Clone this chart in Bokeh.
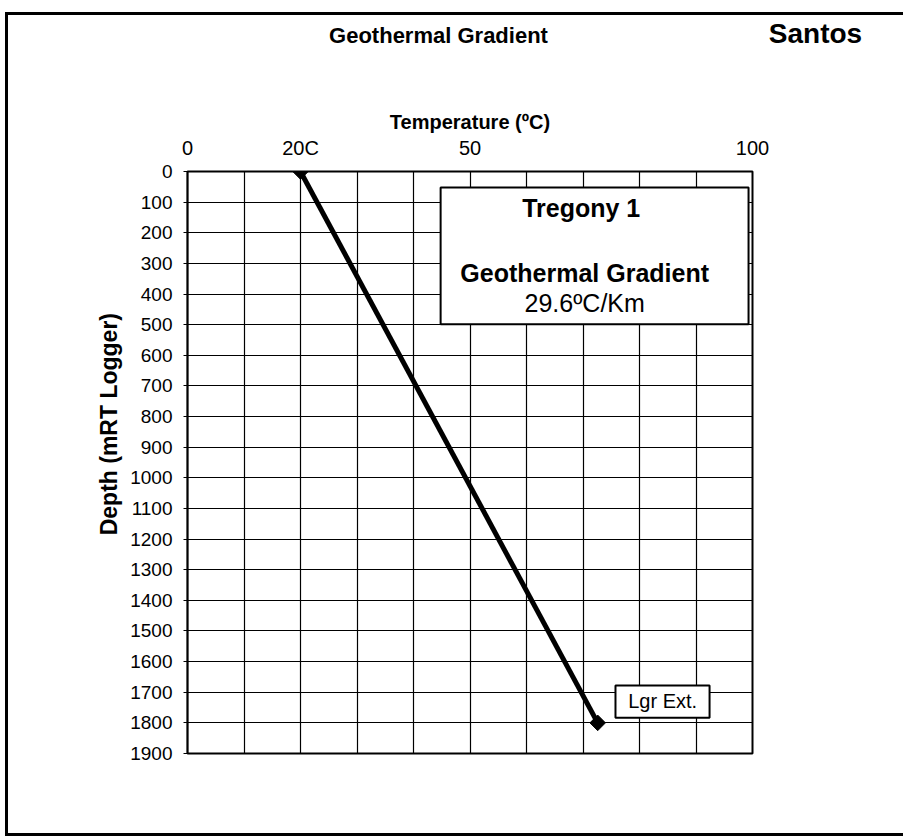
import math
from bokeh.plotting import figure
from bokeh.layouts import column, row
from bokeh.models import Range1d, FixedTicker, Label, BoxAnnotation
from bokeh.embed import file_html
from bokeh.resources import INLINE

# ---- data ----
temperature = [20.0, 72.6]          # degC
depth = [0, 1800]                   # m
x_tick_values = [0, 20, 50, 100]
x_tick_labels = ["0", "20C", "50", "100"]
x_grid_values = list(range(0, 101, 10))
y_tick_values = list(range(0, 1901, 100))
chart_title = "Geothermal Gradient"
company = "Santos"
x_title = "Temperature (ºC)"
y_title = "Depth (mRT Logger)"
well_name = "Tregony  1"
gradient_title = "Geothermal Gradient"
gradient_value = "29.6ºC/Km"
point_label = "Lgr Ext."

FONT = "Liberation Sans"
W = 895
HEAD_H = 60
MAIN_H = 758

# ---- header (titles) ----
head = figure(width=W, height=HEAD_H, x_range=Range1d(8, 903), y_range=Range1d(75, 15),
              x_axis_location=None, y_axis_location=None, output_backend="svg",
              toolbar_location=None, min_border=0)
head.min_border_left = head.min_border_right = 0
head.min_border_top = head.min_border_bottom = 0
head.outline_line_color = None
head.xgrid.visible = False
head.ygrid.visible = False
head.background_fill_color = "white"
head.border_fill_color = "white"
head.add_layout(Label(x=438, y=35, text=chart_title, text_align="center",
                      text_baseline="middle", text_font=FONT, text_font_style="bold",
                      text_font_size="22px", text_color="black"))
head.add_layout(Label(x=815, y=33, text=company, text_align="center",
                      text_baseline="middle", text_font=FONT, text_font_style="bold",
                      text_font_size="28px", text_color="black"))

# ---- main chart ----
p = figure(width=W, height=MAIN_H, x_range=Range1d(0, 100), y_range=Range1d(1900, 0),
           x_axis_location="above", output_backend="svg", toolbar_location=None,
           min_border_left=179, min_border_right=151, min_border_top=96,
           min_border_bottom=80)
p.background_fill_color = "white"
p.border_fill_color = "white"
p.outline_line_color = "black"
p.outline_line_width = 2

xa = p.xaxis[0]
xa.ticker = FixedTicker(ticks=x_tick_values)
xa.major_label_overrides = {t: s for t, s in zip(x_tick_values, x_tick_labels)}
xa.major_tick_out = 0
xa.major_tick_in = 0
xa.minor_tick_out = 0
xa.minor_tick_in = 0
xa.axis_line_color = None
xa.major_label_text_font = FONT
xa.major_label_text_font_size = "20px"
xa.major_label_text_color = "black"
xa.major_label_standoff = 13
xa.axis_label = x_title
xa.axis_label_text_font = FONT
xa.axis_label_text_font_style = "bold"
xa.axis_label_text_font_size = "20px"
xa.axis_label_text_color = "black"
xa.axis_label_standoff = 1

ya = p.yaxis[0]
ya.ticker = FixedTicker(ticks=y_tick_values)
ya.major_tick_out = 4
ya.major_tick_in = 0
ya.minor_tick_out = 0
ya.minor_tick_in = 0
ya.axis_line_color = "black"
ya.axis_line_width = 1.5
ya.major_tick_line_color = "black"
ya.major_label_text_font = FONT
ya.major_label_text_font_size = "19px"
ya.major_label_text_color = "black"
ya.major_label_standoff = 11
ya.axis_label = "\u00a0" * 12 + y_title
ya.axis_label_text_font = FONT
ya.axis_label_text_font_style = "bold"
ya.axis_label_text_font_size = "23px"
ya.axis_label_text_color = "black"
ya.axis_label_standoff = 5

p.xgrid.ticker = FixedTicker(ticks=x_grid_values)
p.ygrid.ticker = FixedTicker(ticks=y_tick_values)
for g in (p.xgrid[0], p.ygrid[0]):
    g.grid_line_color = "black"
    g.grid_line_alpha = 1
    g.grid_line_width = 1.2

p.line(temperature, depth, line_color="black", line_width=5)
p.scatter(temperature, depth, marker="square", angle=math.pi / 4, size=11,
          fill_color="black", line_color="black")

p.add_layout(BoxAnnotation(left=44.8, right=99.3, top=52, bottom=499,
                           fill_color="white", fill_alpha=1,
                           line_color="black", line_width=2, line_alpha=1))

def dlabel(x, y, text, size, bold=False):
    return Label(x=x, y=y, text=text, text_align="center", text_baseline="middle",
                 text_font=FONT, text_font_size=size,
                 text_font_style="bold" if bold else "normal", text_color="black")

p.add_layout(dlabel(70.3, 118, well_name, "25px", bold=True))
p.add_layout(dlabel(70.3, 330, gradient_title, "25px", bold=True))
p.add_layout(dlabel(70.3, 428, gradient_value, "25px"))

p.add_layout(BoxAnnotation(left=75.75, right=92.4, top=1678, bottom=1783,
                           fill_color="white", fill_alpha=1,
                           line_color="black", line_width=2, line_alpha=1))
p.add_layout(dlabel(84.1, 1730, point_label, "20px"))

page = column(row(head, spacing=0), p, spacing=0)
page.styles = {"border-top": "3px solid black", "border-left": "3px solid black",
               "border-bottom": "3px solid black",
               "margin-top": "12px", "margin-left": "5px"}

open("out.html", "w").write(file_html(page, INLINE))
